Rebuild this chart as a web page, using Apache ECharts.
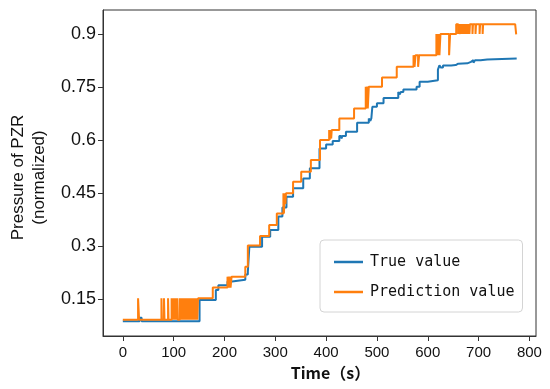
<!DOCTYPE html>
<html>
<head>
<meta charset="utf-8">
<script src="https://cdn.jsdelivr.net/npm/echarts@6/dist/echarts.min.js"></script>
<style>
html,body{margin:0;padding:0;background:#fff;}
#chart{width:550px;height:389px;}
</style>
</head>
<body>
<div id="chart"></div>
<script>
// ---- data ----
const xTicks = [0, 100, 200, 300, 400, 500, 600, 700, 800];
const yTicks = [0.15, 0.3, 0.45, 0.6, 0.75, 0.9];
const yTickLabels = ['0.15', '0.3', '0.45', '0.6', '0.75', '0.9'];
const seriesNames = ['True value', 'Prediction value'];

// True value: breakpoints (time, value), held until next breakpoint
const trueT = [0, 33, 37, 151, 183, 188, 206, 215, 241, 246, 249, 274, 290, 306, 314, 322, 335, 355, 368, 387, 400, 413, 426, 430, 432, 439, 461, 484, 487, 489, 491, 500, 513, 542, 545, 547, 552, 578, 584, 600, 620, 623, 626, 630, 646, 655, 660, 663, 678, 685, 690, 693, 704, 717, 775];
const trueV = [0.088, 0.098, 0.088, 0.148, 0.176, 0.19, 0.2, 0.205, 0.22, 0.228, 0.299, 0.327, 0.346, 0.384, 0.41, 0.44, 0.464, 0.492, 0.521, 0.577, 0.588, 0.598, 0.612, 0.605, 0.612, 0.624, 0.65, 0.662, 0.655, 0.662, 0.695, 0.705, 0.72, 0.737, 0.73, 0.737, 0.744, 0.752, 0.766, 0.77, 0.80, 0.812, 0.806, 0.812, 0.813, 0.817, 0.812, 0.818, 0.822, 0.827, 0.82, 0.827, 0.829, 0.832, 0.832];

// Prediction value: breakpoints (time, value)
const predT = [0, 30, 32, 76, 77, 81, 82, 89, 90, 96, 97, 100, 101, 103, 104, 107, 108,
  112, 113.5, 115, 116.5, 118, 119.5, 121, 122.5, 124, 125.5, 127, 128.5, 130, 131.5, 133, 134.5, 136, 137.5, 139, 140.5, 142, 143.5, 145, 146.5, 148,
  177, 206, 208, 210, 212, 214, 216, 241, 246, 270, 288, 303, 316, 317, 318.5, 320, 321, 335, 351, 370, 388, 406, 407, 408.5, 410, 411, 426, 455, 478, 479, 481, 482, 484, 510, 539, 572, 574, 576, 581, 583, 617, 619, 621, 623, 625, 642, 644,
  656, 660, 661, 664, 665, 667, 668, 670, 671, 673, 674, 676, 677, 679, 680, 682, 683, 688, 689, 694, 695, 702, 703, 708, 709, 772, 774];
const predV = [0.092, 0.153, 0.092, 0.153, 0.092, 0.153, 0.092, 0.153, 0.092, 0.153, 0.092, 0.153, 0.092, 0.153, 0.092, 0.153, 0.092,
  0.153, 0.092, 0.153, 0.092, 0.153, 0.092, 0.153, 0.092, 0.153, 0.092, 0.153, 0.092, 0.153, 0.092, 0.153, 0.092, 0.153, 0.092, 0.153, 0.092, 0.153, 0.092, 0.153, 0.092, 0.153,
  0.183, 0.214, 0.183, 0.214, 0.183, 0.214, 0.214, 0.242, 0.302, 0.329, 0.36, 0.393, 0.45, 0.393, 0.45, 0.42, 0.45, 0.483, 0.511, 0.544, 0.601, 0.629, 0.601, 0.629, 0.605, 0.629, 0.662, 0.69, 0.752, 0.69, 0.752, 0.69, 0.752, 0.778, 0.808, 0.841, 0.808, 0.841, 0.808, 0.841, 0.901, 0.841, 0.901, 0.841, 0.901, 0.841, 0.901,
  0.929, 0.901, 0.929, 0.901, 0.929, 0.901, 0.929, 0.901, 0.929, 0.901, 0.929, 0.901, 0.929, 0.901, 0.929, 0.901, 0.929, 0.901, 0.929, 0.901, 0.929, 0.901, 0.929, 0.901, 0.929, 0.929, 0.9];

const toPairs = (t, v) => t.map((x, i) => [x, v[i]]);

const chart = echarts.init(document.getElementById('chart'), null, {renderer: 'canvas'});
const axisColor = '#333';
chart.setOption({
  animation: false,
  backgroundColor: '#fff',
  grid: {left: 97, right: 14, top: 10, bottom: 53, show: true, borderColor: axisColor, borderWidth: 1, backgroundColor: 'transparent'},
  legend: {
    orient: 'vertical', left: 320, top: 240,
    padding: [13, 8, 11, 14],
    itemGap: 12, itemWidth: 29, itemHeight: 2.5,
    icon: 'rect',
    borderColor: '#d4d4d4', borderWidth: 1, borderRadius: 4,
    backgroundColor: 'rgba(255,255,255,0.85)',
    textStyle: {fontFamily: 'DejaVu Sans Mono', fontSize: 15, lineHeight: 18, color: '#111', padding: [0, 0, 0, 2]},
    data: seriesNames
  },
  xAxis: {
    type: 'value', min: -39, max: 813,
    splitLine: {show: false},
    axisLine: {show: true, onZero: false, lineStyle: {color: axisColor, width: 1}},
    axisTick: {show: true, customValues: xTicks, length: 5, lineStyle: {color: axisColor}},
    axisLabel: {customValues: xTicks, margin: 9, fontFamily: 'Liberation Sans', fontSize: 15, color: '#111'},
    name: 'Time（s）', nameLocation: 'middle', nameGap: 26,
    nameTextStyle: {fontFamily: 'Noto Sans CJK SC', fontWeight: 'bold', fontSize: 16, color: '#111', padding: [0, 0, 0, 22]}
  },
  yAxis: {
    type: 'value', min: 0.046, max: 0.969,
    splitLine: {show: false},
    axisLine: {show: true, onZero: false, lineStyle: {color: axisColor, width: 1}},
    axisTick: {show: true, customValues: yTicks, length: 5, lineStyle: {color: axisColor}},
    axisLabel: {customValues: yTicks, margin: 7, fontFamily: 'Liberation Sans', fontSize: 18, color: '#111',
      formatter: function (v) { const i = yTicks.findIndex(t => Math.abs(t - v) < 1e-6); return i >= 0 ? yTickLabels[i] : ''; }},
    name: 'Pressure of PZR\n(normalized)', nameLocation: 'middle', nameGap: 53, nameRotate: 90,
    nameTextStyle: {fontFamily: 'Liberation Sans', fontSize: 17, lineHeight: 21, color: '#111', padding: [0, 9, 0, 0]}
  },
  series: [
    {name: seriesNames[0], type: 'line', step: 'end', showSymbol: false, symbol: 'none',
     data: toPairs(trueT, trueV), itemStyle: {color: '#1f77b4'}, lineStyle: {color: '#1f77b4', width: 2}},
    {name: seriesNames[1], type: 'line', step: 'end', showSymbol: false, symbol: 'none',
     data: toPairs(predT, predV), itemStyle: {color: '#ff7f0e'}, lineStyle: {color: '#ff7f0e', width: 2}}
  ]
});
</script>
</body>
</html>
